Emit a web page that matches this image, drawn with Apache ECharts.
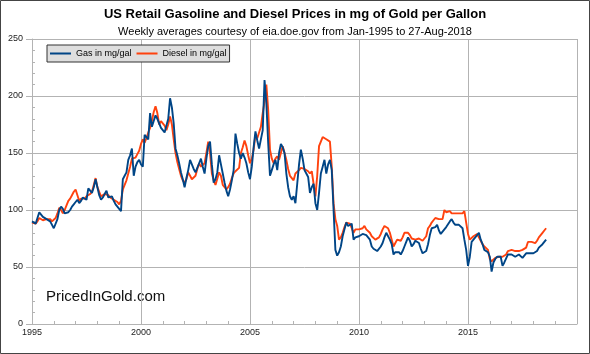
<!DOCTYPE html>
<html>
<head>
<meta charset="utf-8">
<script src="https://cdn.jsdelivr.net/npm/echarts@6/dist/echarts.min.js"></script>
<style>
  html, body { margin: 0; padding: 0; background: #fff; }
  #chart { width: 590px; height: 354px; }
</style>
</head>
<body>
<div id="chart"></div>
<script>
// monthly readings, Jan 1995 .. Aug 2018 (mg of gold per gallon)
const startYear = 1995
const xTicks = [1995, 2000, 2005, 2010, 2015, 2020]
const yTicks = [0, 50, 100, 150, 200, 250]

const gas = [
  90, 89, 88, 93, 98, 96, 94, 93, 92, 91, 90, 89,
  84, 83, 92, 100, 103, 101, 97, 97, 98, 100, 103, 105,
  107, 109, 106, 108, 111, 110, 109, 119, 117, 115, 120, 127,
  120, 113, 109, 111, 114, 117, 111, 110, 112, 108, 105, 103,
  102, 99, 127, 130, 133, 144, 148, 154, 130, 138, 142, 144,
  140, 138, 166, 164, 162, 185, 173, 178, 183, 180, 176, 172,
  170, 168, 167, 180, 198, 190, 176, 154, 148, 141, 133, 127,
  120, 128, 135, 144, 140, 136, 133, 137, 141, 145, 138, 132,
  145, 156, 160, 140, 124, 127, 133, 148, 140, 132, 124, 117,
  112, 118, 126, 135, 167, 158, 150, 145, 150, 146, 141, 133,
  127, 138, 155, 169, 161, 154, 162, 170, 214, 194, 159, 130,
  135, 140, 144, 135, 150, 158, 155, 150, 132, 120, 112, 109,
  112, 106, 123, 140, 153, 145, 135, 132, 129, 115, 120, 123,
  106, 100, 115, 132, 138, 144, 132, 140, 144, 135, 100, 65,
  60, 63, 68, 77, 83, 89, 86, 87, 88, 74, 76, 77,
  77, 77, 79, 80, 78, 76, 74, 68, 66, 65, 64, 65,
  68, 71, 76, 80, 79, 74, 70, 61, 63, 64, 63, 61,
  64, 68, 72, 76, 73, 68, 70, 73, 72, 71, 66, 62,
  61, 64, 70, 78, 84, 83, 85, 87, 82, 79, 81, 83,
  85, 86, 90, 92, 89, 87, 88, 87, 86, 84, 74, 65,
  51, 59, 72, 74, 76, 78, 80, 74, 70, 65, 65, 63,
  59, 46, 54, 57, 59, 60, 59, 51, 54, 55, 61, 60,
  61, 60, 59, 60, 61, 60, 58, 60, 62, 61, 62, 62,
  62, 61, 64, 67, 68, 70, 72, 74
]

const diesel = [
  89, 88, 88, 90, 93, 92, 91, 92, 92, 93, 92, 90,
  90, 93, 97, 102, 100, 97, 100, 104, 108, 110, 113, 116,
  118, 113, 108, 110, 111, 110, 112, 113, 114, 116, 122, 128,
  120, 116, 112, 113, 114, 115, 113, 111, 110, 109, 108, 107,
  105, 108, 118, 122, 126, 132, 138, 145, 146, 146, 149, 152,
  158, 162, 159, 163, 168, 172, 178, 186, 191, 185, 175, 178,
  179, 174, 170, 175, 182, 175, 162, 150, 142, 136, 130, 126,
  124, 127, 133, 130, 127, 128, 130, 136, 141, 138, 139, 141,
  150, 160, 150, 132, 126, 122, 121, 133, 130, 122, 120, 118,
  120, 123, 128, 132, 134, 135, 137, 150, 155, 161, 156, 148,
  141, 145, 153, 166, 163, 168, 173, 185, 195, 210, 188, 153,
  145, 141, 145, 147, 144, 150, 156, 150, 144, 136, 130, 128,
  126, 132, 133, 135, 137, 138, 136, 135, 134, 132, 134, 135,
  112, 130, 156, 160, 164, 163, 162, 161, 160, 138, 106, 92,
  86, 74, 76, 80, 85, 89, 88, 88, 84, 80, 83, 83,
  83, 83, 84, 86, 83, 82, 80, 77, 76, 74, 75, 76,
  79, 83, 86, 87, 84, 80, 74, 68, 71, 74, 73, 73,
  76, 80, 80, 80, 78, 75, 74, 74, 75, 75, 74, 73,
  74, 77, 84, 86, 89, 91, 93, 92, 92, 92, 92, 100,
  98, 98, 99, 97, 96, 97, 98, 97, 96, 97, 99, 89,
  79, 74, 75, 77, 78, 79, 76, 73, 70, 68, 67, 65,
  57, 55, 56, 58, 59, 59, 60, 59, 60, 61, 64, 65,
  65, 65, 64, 64, 64, 64, 65, 66, 67, 72, 72, 72,
  72, 71, 73, 76, 78, 80, 82, 84
]

const toPoints = arr => arr.map((v, i) => [startYear + i / 12, v])

const gridColor = '#b3b3b3'
const font = 'Liberation Sans'

const chart = echarts.init(document.getElementById('chart'))
chart.setOption({
  backgroundColor: '#fff',
  animation: false,
  title: [
    {
      text: 'US Retail Gasoline and Diesel Prices in mg of Gold per Gallon',
      left: 'center',
      top: 8,
      padding: 0,
      textStyle: { fontFamily: font, fontSize: 13, fontWeight: 'bold', color: '#000' }
    },
    {
      text: 'Weekly averages courtesy of eia.doe.gov from Jan-1995 to 27-Aug-2018',
      left: 'center',
      top: 26,
      padding: 0,
      textStyle: { fontFamily: font, fontSize: 11, fontWeight: 'normal', color: '#000' }
    }
  ],
  legend: {
    left: 47,
    top: 45,
    orient: 'horizontal',
    backgroundColor: '#dedede',
    borderColor: '#333',
    borderWidth: 1,
    borderRadius: 0,
    padding: [4, 3, 4, 3],
    icon: 'rect',
    itemWidth: 21,
    itemHeight: 2,
    itemGap: 5,
    textStyle: { fontFamily: font, fontSize: 9, color: '#000' },
    data: ['Gas in mg/gal', 'Diesel in mg/gal']
  },
  grid: { left: 32, right: 13, top: 39, bottom: 30 },
  xAxis: {
    type: 'value',
    min: xTicks[0],
    max: xTicks[xTicks.length - 1],
    interval: 5,
    axisLine: { lineStyle: { color: gridColor } },
    axisTick: { inside: true, length: 3, lineStyle: { color: gridColor } },
    minorTick: { show: true, splitNumber: 5, length: 3, lineStyle: { color: gridColor } },
    splitLine: { show: true, lineStyle: { color: gridColor } },
    axisLabel: {
      margin: 4,
      fontFamily: font,
      fontSize: 9,
      color: '#222',
      formatter: v => (xTicks.includes(v) && v < 2020 ? String(v) : '')
    }
  },
  yAxis: [
    {
      type: 'value',
      min: yTicks[0],
      max: yTicks[yTicks.length - 1],
      interval: 50,
      axisLine: { show: true, lineStyle: { color: gridColor } },
      axisTick: { show: true, length: 6, lineStyle: { color: gridColor } },
      splitLine: { show: true, lineStyle: { color: gridColor } },
      axisLabel: { margin: 9, fontFamily: font, fontSize: 9, color: '#222' }
    },
    {
      type: 'value',
      position: 'left',
      min: yTicks[0],
      max: yTicks[yTicks.length - 1],
      interval: 50,
      axisLine: { show: false },
      axisTick: { show: false, inside: true },
      minorTick: { show: true, splitNumber: 5, length: 3, lineStyle: { color: gridColor } },
      splitLine: { show: false },
      axisLabel: { show: false }
    }
  ],
  graphic: [
    {
      type: 'text',
      left: 46,
      top: 289,
      style: { text: 'PricedInGold.com', fontFamily: font, fontSize: 15, fill: '#111' }
    },
    {
      type: 'rect',
      shape: { x: 0.5, y: 0.5, width: 589, height: 353 },
      style: { fill: 'none', stroke: '#444', lineWidth: 1 },
      silent: true
    }
  ],
  series: [
    {
      name: 'Gas in mg/gal',
      type: 'line',
      data: toPoints(gas),
      symbol: 'none',
      z: 3,
      lineStyle: { color: '#004586', width: 1.9 },
      itemStyle: { color: '#004586' }
    },
    {
      name: 'Diesel in mg/gal',
      type: 'line',
      data: toPoints(diesel),
      symbol: 'none',
      z: 2,
      lineStyle: { color: '#ff420e', width: 1.9 },
      itemStyle: { color: '#ff420e' }
    }
  ]
})
</script>
</body>
</html>
